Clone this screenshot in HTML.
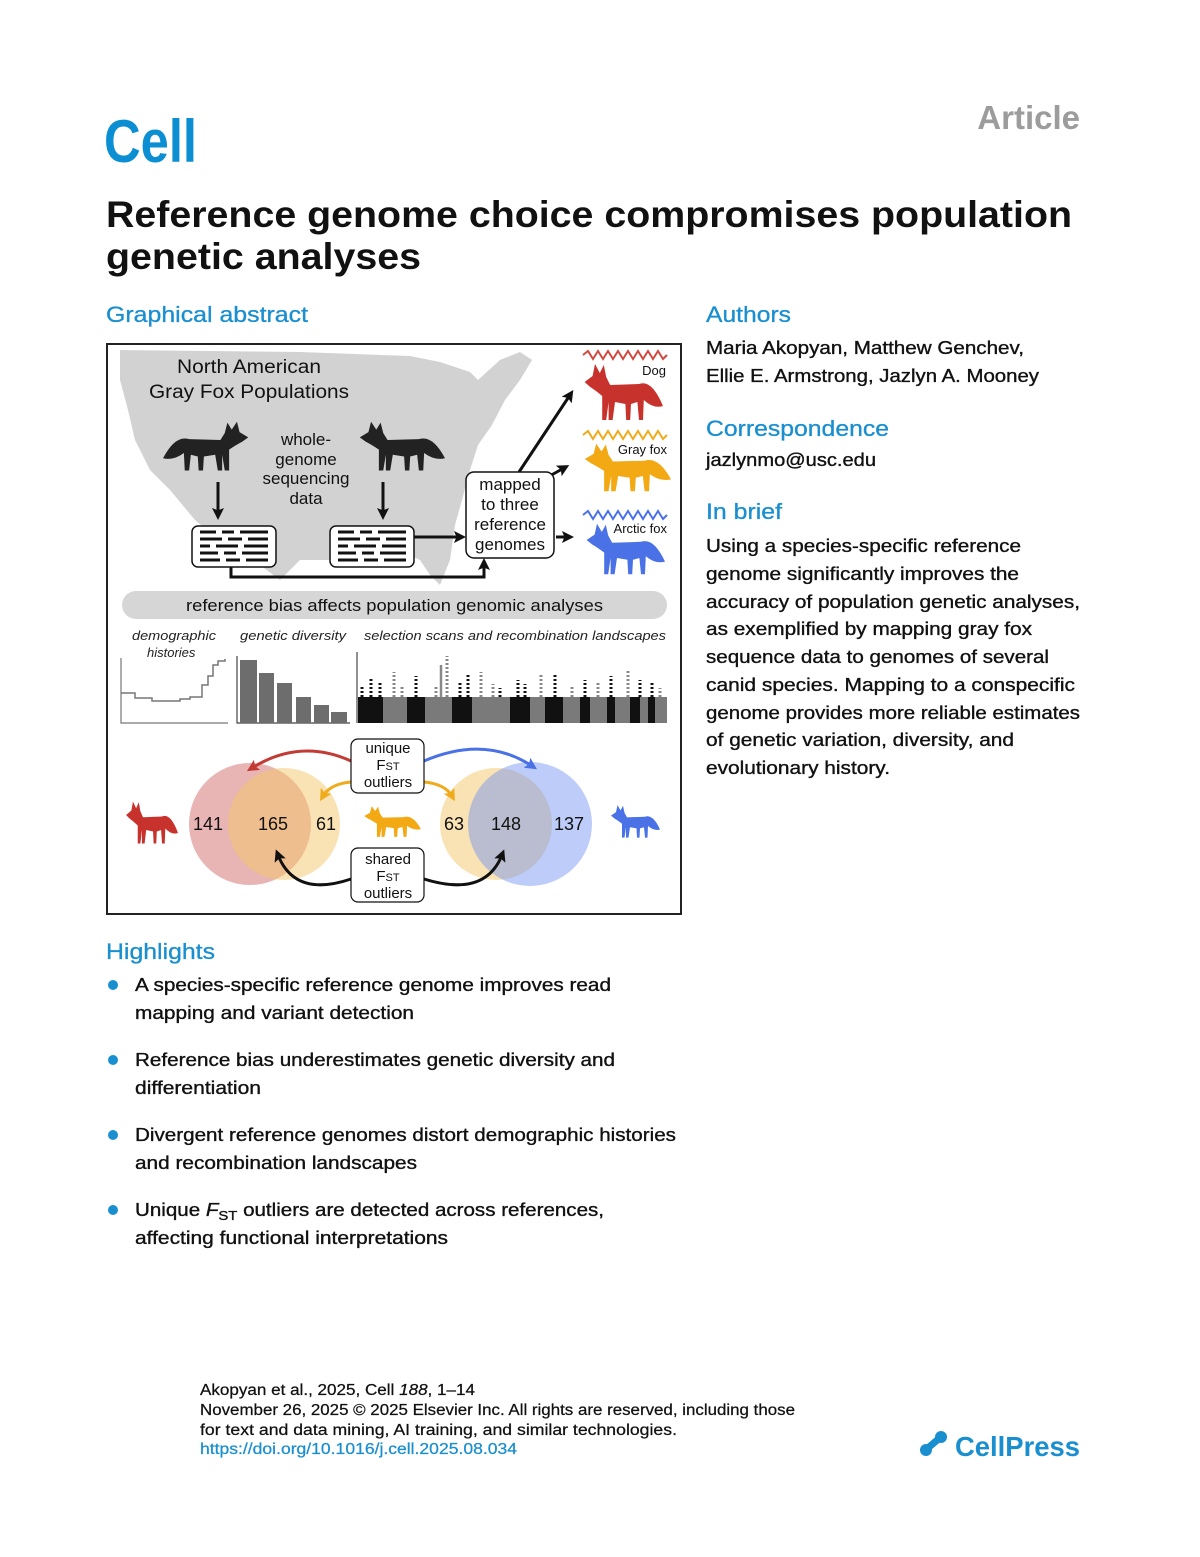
<!DOCTYPE html>
<html><head><meta charset="utf-8"><style>
html,body{margin:0;padding:0;background:#fff;}
svg{display:block;font-family:"Liberation Sans",Arial,sans-serif;}
</style></head><body>
<svg width="1200" height="1557" viewBox="0 0 1200 1557" xmlns="http://www.w3.org/2000/svg">
<defs>
<path id="fox" d="M2,20 L12,14 L15,2 L21,11 L26,3 L29,15 L34,23 L70,22 Q86,17 100,44 Q88,47 76,38 L75,58 L70,58 L68,40 L60,42 L59,58 L54,58 L53,42 L40,40 L37,58 L32,58 L32,40 L29,58 L24,58 L24,34 Q15,28 9,25 Z"/>
<marker id="ak" markerWidth="4" markerHeight="4" refX="2" refY="2" orient="auto" markerUnits="strokeWidth"><path d="M0,0 L4,2 L0,4 L0.8,2 z" fill="#111"/></marker>
<marker id="ar" markerWidth="4" markerHeight="4" refX="2" refY="2" orient="auto" markerUnits="strokeWidth"><path d="M0,0 L4,2 L0,4 L0.8,2 z" fill="#c23b34"/></marker>
<marker id="ab" markerWidth="4" markerHeight="4" refX="2" refY="2" orient="auto" markerUnits="strokeWidth"><path d="M0,0 L4,2 L0,4 L0.8,2 z" fill="#4a72e6"/></marker>
<marker id="ao" markerWidth="4" markerHeight="4" refX="2" refY="2" orient="auto" markerUnits="strokeWidth"><path d="M0,0 L4,2 L0,4 L0.8,2 z" fill="#f0ab1c"/></marker>
</defs>

<!-- header -->
<text x="104" y="162" font-size="60" font-weight="bold" fill="#0b8fd2" textLength="93" lengthAdjust="spacingAndGlyphs">Cell</text>
<text x="1080" y="129" font-size="33" font-weight="bold" fill="#9c9c9c" text-anchor="end">Article</text>
<text x="106" y="227" font-size="37" font-weight="bold" fill="#111" textLength="966" lengthAdjust="spacingAndGlyphs">Reference genome choice compromises population</text>
<text x="106" y="269" font-size="37" font-weight="bold" fill="#111" textLength="315" lengthAdjust="spacingAndGlyphs">genetic analyses</text>

<text x="106" y="322" font-size="22" fill="#1a8fd0" stroke="#1a8fd0" stroke-width="0.3" textLength="202" lengthAdjust="spacingAndGlyphs">Graphical abstract</text>

<!-- figure -->
<rect x="107" y="344" width="574" height="570" fill="#fff" stroke="#222" stroke-width="2"/>
<path d="M120,350 L300,352 L410,356 L440,362 L470,372 L478,380 L500,360 L520,352 L532,360 L520,380 L505,400 L492,425 L478,445 L470,470 L462,500 L455,525 L450,560 L440,585 L430,575 L420,560 L395,548 L360,555 L330,560 L300,560 L280,580 L260,565 L225,545 L195,520 L170,490 L150,470 L135,440 L128,410 L120,380 Z" fill="#d2d2d2"/>
<text x="177" y="373" font-size="19" fill="#111" textLength="144" lengthAdjust="spacingAndGlyphs">North American</text>
<text x="149" y="398" font-size="19" fill="#111" textLength="200" lengthAdjust="spacingAndGlyphs">Gray Fox Populations</text>
<g font-size="17" text-anchor="middle" fill="#111">
<text x="306" y="445">whole-</text><text x="306" y="465">genome</text><text x="306" y="484">sequencing</text><text x="306" y="504">data</text>
</g>
<use href="#fox" transform="translate(250,420) scale(-0.87,0.87)" fill="#222"/>
<use href="#fox" transform="translate(358,420) scale(0.87,0.87)" fill="#222"/>
<g stroke="#111" stroke-width="3" fill="none">
<line x1="218" y1="482" x2="218" y2="514" marker-end="url(#ak)"/>
<line x1="383" y1="482" x2="383" y2="514" marker-end="url(#ak)"/>
<line x1="414" y1="537" x2="460" y2="537" marker-end="url(#ak)"/>
<polyline points="231,567 231,577 484,577 484,564" marker-end="url(#ak)"/>
<line x1="519" y1="472" x2="570" y2="395" marker-end="url(#ak)"/>
<line x1="546" y1="478" x2="564" y2="468" marker-end="url(#ak)"/>
<line x1="556" y1="537" x2="568" y2="537" marker-end="url(#ak)"/>
</g>
<g fill="#fff" stroke="#111" stroke-width="1.5">
<rect x="192" y="526" width="84" height="41" rx="6"/>
<rect x="330" y="526" width="84" height="41" rx="6"/>
<rect x="466" y="472" width="88" height="86" rx="8"/>
</g>
<g stroke="#111" stroke-width="3">
<path d="M200,532 h16 M222,532 h12 M240,532 h28 M200,539 h22 M228,539 h14 M248,539 h20 M200,546 h10 M216,546 h22 M244,546 h24 M200,553 h18 M224,553 h12 M242,553 h26 M200,560 h20 M226,560 h14 M246,560 h22"/>
<path d="M338,532 h16 M360,532 h12 M378,532 h28 M338,539 h22 M366,539 h14 M386,539 h20 M338,546 h10 M354,546 h22 M382,546 h24 M338,553 h18 M362,553 h12 M380,553 h26 M338,560 h20 M364,560 h14 M384,560 h22"/>
</g>
<g font-size="17" text-anchor="middle" fill="#111">
<text x="510" y="490">mapped</text><text x="510" y="510">to three</text><text x="510" y="530">reference</text><text x="510" y="550">genomes</text>
</g>
<!-- reference genomes -->
<path d="M583,355 l5,-4 l5,8 l5,-8 l5,8 l5,-8 l5,8 l5,-8 l5,8 l5,-8 l5,8 l5,-8 l5,8 l5,-8 l5,8 l5,-8 l5,8 l4,-4" stroke="#d04a40" stroke-width="2" fill="none"/>
<path d="M583,435 l5,-4 l5,8 l5,-8 l5,8 l5,-8 l5,8 l5,-8 l5,8 l5,-8 l5,8 l5,-8 l5,8 l5,-8 l5,8 l5,-8 l5,8 l4,-4" stroke="#f0ab1c" stroke-width="2" fill="none"/>
<path d="M583,515 l5,-4 l5,8 l5,-8 l5,8 l5,-8 l5,8 l5,-8 l5,8 l5,-8 l5,8 l5,-8 l5,8 l5,-8 l5,8 l5,-8 l5,8 l4,-4" stroke="#4a72e6" stroke-width="2" fill="none"/>
<use href="#fox" transform="translate(583,362) scale(0.8,1.0)" fill="#c8322d"/>
<use href="#fox" transform="translate(583,442) scale(0.88,0.85)" fill="#f2a914"/>
<use href="#fox" transform="translate(585,522) scale(0.8,0.9)" fill="#4a72e6"/>
<g font-size="13" text-anchor="end" fill="#111">
<text x="666" y="375">Dog</text><text x="667" y="454">Gray fox</text><text x="667" y="533">Arctic fox</text>
</g>
<!-- pill -->
<rect x="122" y="591" width="545" height="28" rx="14" fill="#d6d6d6"/>
<text x="186" y="611" font-size="17" fill="#111" textLength="417" lengthAdjust="spacingAndGlyphs">reference bias affects population genomic analyses</text>
<g font-size="13" font-style="italic" fill="#222">
<text x="132" y="640" textLength="84" lengthAdjust="spacingAndGlyphs">demographic</text><text x="147" y="657">histories</text>
<text x="240" y="640" textLength="106" lengthAdjust="spacingAndGlyphs">genetic diversity</text>
<text x="364" y="640" textLength="302" lengthAdjust="spacingAndGlyphs">selection scans and recombination landscapes</text>
</g>
<polyline points="121,658 121,723 228,723" fill="none" stroke="#777" stroke-width="1.2"/>
<polyline points="121,693 135,693 135,698 152,698 152,701 180,701 180,699 190,699 190,697 202,697 202,685 208,685 208,676 213,676 213,665 218,665 218,661 225,661 225,659" fill="none" stroke="#777" stroke-width="1.5"/>
<polyline points="237,656 237,723 350,723" fill="none" stroke="#444" stroke-width="1.2"/>
<g fill="#6d6d6d">
<rect x="240" y="660" width="17" height="63"/><rect x="259" y="673" width="15" height="50"/><rect x="277" y="683" width="15" height="40"/><rect x="296" y="697" width="15" height="26"/><rect x="314" y="705" width="15" height="18"/><rect x="331" y="712" width="16" height="11"/>
</g>
<line x1="357" y1="652" x2="357" y2="723" stroke="#222" stroke-width="1"/>
<rect x="358" y="697" width="309" height="26" fill="#7a7a7a"/>
<g fill="#111">
<rect x="358" y="697" width="25" height="26"/><rect x="407" y="697" width="18" height="26"/><rect x="452" y="697" width="20" height="26"/><rect x="510" y="697" width="20" height="26"/><rect x="545" y="697" width="18" height="26"/><rect x="580" y="697" width="10" height="26"/><rect x="607" y="697" width="8" height="26"/><rect x="630" y="697" width="10" height="26"/><rect x="648" y="697" width="7" height="26"/>
</g>
<g stroke-width="3" stroke-dasharray="2 2">
<line x1="362" y1="697" x2="362" y2="686" stroke="#111"/><line x1="371" y1="697" x2="371" y2="678" stroke="#111"/><line x1="380" y1="697" x2="380" y2="683" stroke="#111"/>
<line x1="394" y1="697" x2="394" y2="672" stroke="#888"/><line x1="402" y1="697" x2="402" y2="685" stroke="#888"/>
<line x1="416" y1="697" x2="416" y2="676" stroke="#111"/><line x1="436" y1="697" x2="436" y2="686" stroke="#888"/>
<line x1="447" y1="697" x2="447" y2="656" stroke="#888"/><line x1="460" y1="697" x2="460" y2="682" stroke="#111"/><line x1="468" y1="697" x2="468" y2="675" stroke="#111"/>
<line x1="481" y1="697" x2="481" y2="672" stroke="#888"/><line x1="493" y1="697" x2="493" y2="684" stroke="#888"/><line x1="500" y1="697" x2="500" y2="688" stroke="#111"/>
<line x1="518" y1="697" x2="518" y2="680" stroke="#111"/><line x1="525" y1="697" x2="525" y2="684" stroke="#111"/><line x1="541" y1="697" x2="541" y2="673" stroke="#888"/>
<line x1="555" y1="697" x2="555" y2="673" stroke="#111"/><line x1="572" y1="697" x2="572" y2="685" stroke="#888"/><line x1="585" y1="697" x2="585" y2="680" stroke="#111"/>
<line x1="598" y1="697" x2="598" y2="682" stroke="#888"/><line x1="611" y1="697" x2="611" y2="676" stroke="#111"/><line x1="628" y1="697" x2="628" y2="670" stroke="#888"/>
<line x1="640" y1="697" x2="640" y2="680" stroke="#111"/><line x1="652" y1="697" x2="652" y2="683" stroke="#111"/><line x1="660" y1="697" x2="660" y2="688" stroke="#888"/>
</g>
<line x1="441" y1="697" x2="441" y2="665" stroke="#888" stroke-width="2.5"/>
<!-- venn -->
<ellipse cx="250" cy="824" rx="61" ry="61" fill="#d26a6a" fill-opacity="0.5"/>
<ellipse cx="284" cy="824" rx="56" ry="56" fill="#f3c86a" fill-opacity="0.5"/>
<ellipse cx="496" cy="824" rx="56" ry="56" fill="#f3c86a" fill-opacity="0.5"/>
<ellipse cx="530" cy="824" rx="62" ry="62" fill="#6d8df0" fill-opacity="0.45"/>
<g font-size="18" text-anchor="middle" fill="#111">
<text x="208" y="830">141</text><text x="273" y="830">165</text><text x="326" y="830">61</text>
<text x="454" y="830">63</text><text x="506" y="830">148</text><text x="569" y="830">137</text>
</g>
<use href="#fox" transform="translate(125,800) scale(0.53,0.75)" fill="#c8322d"/>
<use href="#fox" transform="translate(363,805) scale(0.58,0.55)" fill="#f2a914"/>
<use href="#fox" transform="translate(610,804) scale(0.5,0.58)" fill="#4a72e6"/>
<g fill="none" stroke-width="3">
<path d="M351,761 Q300,738 252,768" stroke="#c23b34" marker-end="url(#ar)"/>
<path d="M424,761 Q485,735 532,766" stroke="#4a72e6" marker-end="url(#ab)"/>
<path d="M351,782 Q330,784 323,796" stroke="#f0ab1c" marker-end="url(#ao)"/>
<path d="M424,782 Q445,784 452,796" stroke="#f0ab1c" marker-end="url(#ao)"/>
<path d="M351,879 Q295,898 278,855" stroke="#111" marker-end="url(#ak)"/>
<path d="M424,879 Q485,898 502,855" stroke="#111" marker-end="url(#ak)"/>
</g>
<g fill="#fff" stroke="#111" stroke-width="1.2">
<rect x="351" y="739" width="73" height="54" rx="7"/>
<rect x="351" y="848" width="73" height="54" rx="7"/>
</g>
<g font-size="15" text-anchor="middle" fill="#111">
<text x="388" y="753">unique</text><text x="388" y="770">F<tspan font-size="11">ST</tspan></text><text x="388" y="787">outliers</text>
<text x="388" y="864">shared</text><text x="388" y="881">F<tspan font-size="11">ST</tspan></text><text x="388" y="898">outliers</text>
</g>

<!-- right column -->
<g font-size="18" fill="#111" stroke="#111" stroke-width="0.35" lengthAdjust="spacingAndGlyphs">
<text x="706" y="322" font-size="22" fill="#1a8fd0" stroke="#1a8fd0" stroke-width="0.3" textLength="85" lengthAdjust="spacingAndGlyphs">Authors</text>
<text x="706" y="354" textLength="318" lengthAdjust="spacingAndGlyphs">Maria Akopyan, Matthew Genchev,</text>
<text x="706" y="382" textLength="333" lengthAdjust="spacingAndGlyphs">Ellie E. Armstrong, Jazlyn A. Mooney</text>
<text x="706" y="436" font-size="22" fill="#1a8fd0" stroke="#1a8fd0" stroke-width="0.3" textLength="183" lengthAdjust="spacingAndGlyphs">Correspondence</text>
<text x="706" y="466" textLength="170" lengthAdjust="spacingAndGlyphs">jazlynmo@usc.edu</text>
<text x="706" y="519" font-size="22" fill="#1a8fd0" stroke="#1a8fd0" stroke-width="0.3" textLength="76" lengthAdjust="spacingAndGlyphs">In brief</text>
<text x="706" y="552" textLength="315" lengthAdjust="spacingAndGlyphs">Using a species-specific reference</text>
<text x="706" y="580" textLength="313" lengthAdjust="spacingAndGlyphs">genome significantly improves the</text>
<text x="706" y="608" textLength="374" lengthAdjust="spacingAndGlyphs">accuracy of population genetic analyses,</text>
<text x="706" y="635" textLength="326" lengthAdjust="spacingAndGlyphs">as exemplified by mapping gray fox</text>
<text x="706" y="663" textLength="343" lengthAdjust="spacingAndGlyphs">sequence data to genomes of several</text>
<text x="706" y="691" textLength="369" lengthAdjust="spacingAndGlyphs">canid species. Mapping to a conspecific</text>
<text x="706" y="719" textLength="374" lengthAdjust="spacingAndGlyphs">genome provides more reliable estimates</text>
<text x="706" y="746" textLength="308" lengthAdjust="spacingAndGlyphs">of genetic variation, diversity, and</text>
<text x="706" y="774" textLength="184" lengthAdjust="spacingAndGlyphs">evolutionary history.</text>
</g>

<!-- highlights -->
<text x="106" y="959" font-size="22" fill="#1a8fd0" stroke="#1a8fd0" stroke-width="0.3" textLength="109" lengthAdjust="spacingAndGlyphs">Highlights</text>
<g fill="#1a8fd0"><circle cx="113" cy="985" r="5"/><circle cx="113" cy="1060" r="5"/><circle cx="113" cy="1135" r="5"/><circle cx="113" cy="1210" r="5"/></g>
<g font-size="18" fill="#111" stroke="#111" stroke-width="0.35">
<text x="135" y="991" textLength="476" lengthAdjust="spacingAndGlyphs">A species-specific reference genome improves read</text>
<text x="135" y="1019" textLength="279" lengthAdjust="spacingAndGlyphs">mapping and variant detection</text>
<text x="135" y="1066" textLength="480" lengthAdjust="spacingAndGlyphs">Reference bias underestimates genetic diversity and</text>
<text x="135" y="1094" textLength="126" lengthAdjust="spacingAndGlyphs">differentiation</text>
<text x="135" y="1141" textLength="541" lengthAdjust="spacingAndGlyphs">Divergent reference genomes distort demographic histories</text>
<text x="135" y="1169" textLength="282" lengthAdjust="spacingAndGlyphs">and recombination landscapes</text>
<text x="135" y="1216" textLength="469" lengthAdjust="spacingAndGlyphs">Unique <tspan font-style="italic">F</tspan><tspan font-size="13" dy="4">ST</tspan><tspan dy="-4"> outliers are detected across references,</tspan></text>
<text x="135" y="1244" textLength="313" lengthAdjust="spacingAndGlyphs">affecting functional interpretations</text>
</g>

<!-- footer -->
<g font-size="15.5" fill="#111" stroke="#111" stroke-width="0.25">
<text x="200" y="1395" textLength="275" lengthAdjust="spacingAndGlyphs">Akopyan et al., 2025, Cell <tspan font-style="italic">188</tspan>, 1–14</text>
<text x="200" y="1415" textLength="595" lengthAdjust="spacingAndGlyphs">November 26, 2025 © 2025 Elsevier Inc. All rights are reserved, including those</text>
<text x="200" y="1435" textLength="477" lengthAdjust="spacingAndGlyphs">for text and data mining, AI training, and similar technologies.</text>
<text x="200" y="1454" fill="#1a8fd0" stroke="#1a8fd0" textLength="317" lengthAdjust="spacingAndGlyphs">https://doi.org/10.1016/j.cell.2025.08.034</text>
</g>
<g fill="#1a8fd0">
<circle cx="926" cy="1450" r="6"/><circle cx="941" cy="1437" r="6"/>
<rect x="925" y="1440" width="16" height="7" transform="rotate(-40 933 1443)"/>
<text x="955" y="1456" font-size="28" font-weight="bold" textLength="125" lengthAdjust="spacingAndGlyphs">CellPress</text>
</g>
</svg>
</body></html>
